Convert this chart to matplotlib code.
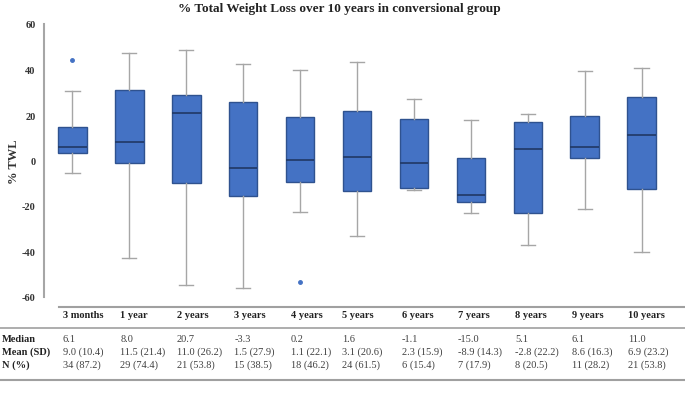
import matplotlib
matplotlib.use("Agg")
import matplotlib.pyplot as plt

categories = ["3 months", "1 year", "2 years", "3 years", "4 years", "5 years",
              "6 years", "7 years", "8 years", "9 years", "10 years"]
whisker_low = [-5.5, -43.0, -54.9, -56.2, -22.8, -33.2, -13.0, -22.9, -37.3, -21.5, -40.2]
q1 = [3.3, -1.0, -9.8, -15.5, -9.3, -13.5, -12.2, -18.4, -22.9, 1.1, -12.5]
medians = [6.1, 8.0, 20.7, -3.3, 0.2, 1.6, -1.1, -15.0, 5.1, 6.1, 11.0]
q3 = [14.9, 30.9, 28.9, 25.7, 19.0, 21.8, 18.4, 1.1, 16.9, 19.6, 28.0]
whisker_high = [30.4, 47.3, 48.7, 42.5, 39.8, 43.2, 27.0, 17.7, 20.3, 39.3, 40.8]
outliers = [[44.2], [], [], [], [-53.5], [], [], [], [], [], []]

median_txt = ["6.1", "8.0", "20.7", "-3.3", "0.2", "1.6", "-1.1", "-15.0", "5.1", "6.1", "11.0"]
mean_sd_txt = ["9.0 (10.4)", "11.5 (21.4)", "11.0 (26.2)", "1.5 (27.9)", "1.1 (22.1)",
               "3.1 (20.6)", "2.3 (15.9)", "-8.9 (14.3)", "-2.8 (22.2)", "8.6 (16.3)", "6.9 (23.2)"]
n_txt = ["34 (87.2)", "29 (74.4)", "21 (53.8)", "15 (38.5)", "18 (46.2)", "24 (61.5)",
         "6 (15.4)", "7 (17.9)", "8 (20.5)", "11 (28.2)", "21 (53.8)"]
row_labels = ["Median", "Mean (SD)", "N (%)"]
y_ticks = [-60, -40, -20, 0, 20, 40, 60]

W, H = 685, 402
fig = plt.figure(figsize=(W / 100, H / 100), dpi=100)
serif = ["Liberation Serif", "DejaVu Serif"]

def fx(px):
    return px / W

def fy(py):
    return 1 - py / H

ax = fig.add_axes([fx(44), fy(298), fx(626), (298 - 25) / H])

stats = []
for i, c in enumerate(categories):
    stats.append(dict(label=c, whislo=whisker_low[i], q1=q1[i], med=medians[i],
                      q3=q3[i], whishi=whisker_high[i], fliers=outliers[i]))

box_face = "#4472C4"
ax.bxp(stats, positions=list(range(len(categories))), widths=0.5, patch_artist=True,
       showfliers=True,
       boxprops=dict(facecolor=box_face, edgecolor="#2F528F", linewidth=1.0),
       medianprops=dict(color="#203864", linewidth=1.2),
       whiskerprops=dict(color="#A6A6A6", linewidth=1.0),
       capprops=dict(color="#A6A6A6", linewidth=1.0),
       flierprops=dict(marker="o", markersize=2.5, markerfacecolor=box_face,
                       markeredgecolor=box_face))

ax.set_xlim(-0.5, len(categories) - 0.5)
ax.set_ylim(-60, 60)
ax.set_yticks(y_ticks)
ax.set_yticklabels([str(t) for t in y_ticks], fontfamily=serif, fontweight="bold",
                   fontsize=7.5, color="#333333")
ax.set_xticks([])
ax.tick_params(axis="y", length=0, pad=6)
for s in ["top", "right", "bottom"]:
    ax.spines[s].set_visible(False)
ax.spines["left"].set_color("#A6A6A6")
ax.spines["left"].set_linewidth(1.5)
ax.set_facecolor("none")

fig.text(fx(14), fy(162), "% TWL", rotation=90, ha="center", va="center",
         fontfamily=serif, fontweight="bold", fontsize=9, color="#333333")

fig.text(fx(339), fy(9), "% Total Weight Loss over 10 years in conversional group",
         ha="center", va="center", fontfamily=serif, fontweight="bold", fontsize=9.5,
         color="#222222")

# table
col_x = [63, 120.5, 177, 234.5, 291, 342, 401.5, 458, 515, 571.5, 628]
line_col = "#A0A0A0"
fig.add_artist(plt.Line2D([fx(59), fx(685)], [fy(308), fy(308)], color=line_col,
                          linewidth=1.5, transform=fig.transFigure))
fig.add_artist(plt.Line2D([fx(0), fx(685)], [fy(329), fy(329)], color=line_col,
                          linewidth=1.2, transform=fig.transFigure))
fig.add_artist(plt.Line2D([fx(0), fx(685)], [fy(381), fy(381)], color=line_col,
                          linewidth=1.5, transform=fig.transFigure))

for i, c in enumerate(categories):
    fig.text(fx(col_x[i]), fy(316), c, ha="left", va="center", fontfamily=serif,
             fontweight="bold", fontsize=7.5, color="#222222")
row_y = [339.5, 352.5, 365.5]
rows = [median_txt, mean_sd_txt, n_txt]
for r, lab in enumerate(row_labels):
    fig.text(fx(2), fy(row_y[r]), lab, ha="left", va="center", fontfamily=serif,
             fontweight="bold", fontsize=7.5, color="#222222")
    for i, t in enumerate(rows[r]):
        fig.text(fx(col_x[i]), fy(row_y[r]), t, ha="left", va="center", fontfamily=serif,
                 fontsize=7.5, color="#404040")

fig.savefig("out.png", dpi=100, facecolor="white")
